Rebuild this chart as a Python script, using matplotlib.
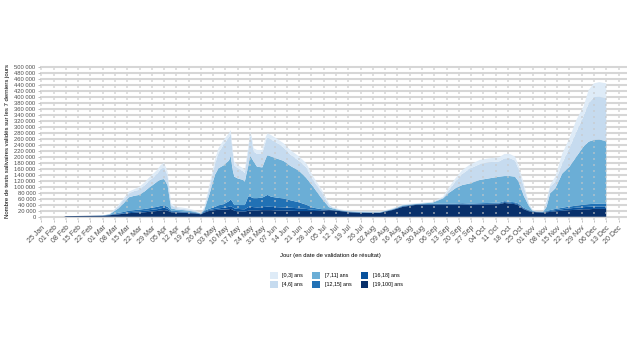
import matplotlib
matplotlib.use("Agg")
import matplotlib.pyplot as plt
from matplotlib.patches import Patch
import numpy as np
import pandas as pd

plt.rcParams['font.family'] = ['Liberation Sans', 'DejaVu Sans']

# ---- data (thousands of tests, 7-day rolling sums) ----
dates = ["2021-01-25", "2021-02-07", "2021-02-08", "2021-02-22", "2021-03-01", "2021-03-05",
         "2021-03-10", "2021-03-13", "2021-03-16", "2021-03-19", "2021-03-22", "2021-03-25",
         "2021-03-27", "2021-03-30", "2021-04-01", "2021-04-03", "2021-04-05", "2021-04-07",
         "2021-04-09", "2021-04-12", "2021-04-16", "2021-04-19", "2021-04-23", "2021-04-26",
         "2021-04-28", "2021-05-01", "2021-05-04", "2021-05-06", "2021-05-09", "2021-05-12",
         "2021-05-13", "2021-05-14", "2021-05-15", "2021-05-17", "2021-05-20", "2021-05-21",
         "2021-05-23", "2021-05-24", "2021-05-25", "2021-05-26", "2021-05-28", "2021-05-31",
         "2021-06-02", "2021-06-03", "2021-06-05", "2021-06-08", "2021-06-12", "2021-06-16",
         "2021-06-21", "2021-06-25", "2021-06-29", "2021-07-04", "2021-07-08", "2021-07-10",
         "2021-07-14", "2021-07-19", "2021-07-25", "2021-08-01", "2021-08-06", "2021-08-13",
         "2021-08-19", "2021-08-27", "2021-09-05", "2021-09-11", "2021-09-14", "2021-09-18",
         "2021-09-22", "2021-09-26", "2021-10-02", "2021-10-07", "2021-10-13", "2021-10-16",
         "2021-10-19", "2021-10-22", "2021-10-24", "2021-10-27", "2021-10-30", "2021-11-01",
         "2021-11-03", "2021-11-07", "2021-11-09", "2021-11-11", "2021-11-14", "2021-11-18",
         "2021-11-22", "2021-11-26", "2021-11-30", "2021-12-03", "2021-12-06", "2021-12-09",
         "2021-12-13"]

age_19_100 = [0, 0, 2, 3, 3, 5, 8, 10, 12, 13, 14, 15, 16, 18, 19, 21, 22, 20, 15, 14, 13, 12, 11, 8,
              14, 20, 22, 23, 24, 25, 26, 24, 20, 18, 17, 17, 20, 21, 21, 21, 21, 22, 22, 22, 22, 21,
              21, 20, 19, 19, 19, 20, 22, 21, 19, 15, 13, 13, 13, 22, 33, 40, 40, 40, 40, 40, 40, 39,
              40, 41, 42, 46, 44, 42, 38, 25, 18, 16, 15, 14, 15, 16, 18, 20, 22, 23, 25, 25, 26, 26, 26]
age_16_18 = [0, 0, 0, 0, 0.5, 1, 2, 2, 3, 4, 4, 5, 5, 6, 6, 7, 8, 7, 2, 2, 2, 2, 1, 1,
             3, 3, 4, 5, 6, 8, 9, 8, 8, 8, 8, 8, 12, 12, 12, 11, 10, 10, 11, 12, 11, 11,
             10, 10, 9, 7, 4, 2, 1, 1, 1, 1, 1, 1, 1, 1, 2, 1, 2, 2, 2, 2, 2, 2,
             2, 2, 2, 3, 3, 3, 3, 2, 2, 1, 1, 1, 2, 3, 4, 5, 6, 7, 7, 8, 8, 8, 8]
age_12_15 = [0, 0, 0, 0, 0.5, 1, 3, 4, 5, 5, 6, 6, 7, 7, 8, 8, 8, 6, 3, 3, 2, 2, 2, 1,
             3, 4, 7, 10, 12, 19, 23, 18, 11, 13, 14, 14, 35, 35, 31, 30, 31, 32, 37, 39, 34, 32,
             30, 25, 20, 14, 7, 3, 2, 1, 1, 1, 1, 0, 0, 1, 1, 1, 1, 2, 2, 2, 3, 3,
             3, 3, 3, 3, 3, 3, 3, 3, 2, 1, 1, 1, 2, 3, 4, 5, 6, 7, 8, 9, 9, 10, 10]
age_7_11 = [0, 0, 0, 0, 0, 1, 15, 29, 45, 48, 49, 59, 67, 77, 84, 88, 88, 72, 8, 5, 5, 4, 2, 1,
            4, 51, 107, 124, 130, 136, 145, 110, 95, 89, 84, 78, 103, 135, 131, 123, 105, 101, 125, 133, 134, 131,
            126, 115, 105, 90, 70, 35, 7, 5, 1, 1, 1, 1, 1, 1, 2, 1, 4, 17, 34, 51, 61, 67,
            78, 82, 87, 84, 86, 86, 74, 40, 13, 2, 0, 0, 14, 56, 69, 115, 133, 164, 194, 209, 214, 214, 209]
age_4_6 = [0, 0, 0, 0, 0, 1, 7, 13, 12, 16, 17, 20, 22, 24, 26, 34, 39, 33, 10, 5, 4, 4, 3, 1,
           6, 22, 35, 50, 70, 77, 75, 62, 38, 34, 29, 29, 52, 69, 61, 33, 43, 45, 59, 59, 57, 53,
           45, 38, 33, 35, 22, 20, 8, 3, 2, 1, 2, 1, 1, 2, 2, 1, 2, 3, 8, 22, 37, 49,
           53, 54, 51, 59, 60, 54, 42, 30, 5, 3, 1, 1, 17, 22, 22, 34, 62, 83, 101, 128, 143, 143, 143]
age_0_3 = [0, 0, 0, 0, 0, 0, 4, 4, 7, 6, 10, 10, 11, 13, 13, 14, 16, 12, 7, 4, 4, 3, 2, 0,
           3, 11, 15, 17, 15, 14, 12, 12, 12, 11, 10, 10, 12, 12, 12, 11, 13, 13, 14, 14, 15, 14,
           14, 15, 15, 14, 12, 9, 5, 2, 1, 1, 1, 1, 1, 1, 2, 1, 1, 3, 9, 11, 13, 13,
           14, 13, 14, 15, 14, 13, 13, 11, 5, 2, 1, 0, 5, 6, 17, 33, 33, 40, 33, 45, 46, 49, 50]

labels = ["[0,3] ans", "[4,6] ans", "[7,11] ans", "[12,15] ans", "[16,18] ans", "[19,100] ans"]
colors = ["#deebf7", "#c6dbef", "#6baed6", "#2171b5", "#08519c", "#08306b"]

x = pd.to_datetime(dates)
series_bottom_up = [age_19_100, age_16_18, age_12_15, age_7_11, age_4_6, age_0_3]
ys = [np.array(s, dtype=float) * 1000 for s in series_bottom_up]
cols_bottom_up = colors[::-1]

fig = plt.figure(figsize=(6.34, 3.52), dpi=100)
W, H = 634, 352
ax = fig.add_axes([39.5 / W, 1 - 220 / H, (627 - 39.5) / W, (220 - 63) / H])

ax.stackplot(x, *ys, colors=cols_bottom_up, linewidth=0, zorder=2)

ax.set_xlim(pd.Timestamp("2021-01-24"), pd.Timestamp("2021-12-24 20:00"))
ax.set_ylim(-11000, 514000)

yt = np.arange(0, 500001, 20000)
ax.set_yticks(yt)
ax.set_yticklabels([f"{v:,}".replace(",", " ") for v in yt])
for v in yt:
    ax.axhline(v, color="#d6d6d6", lw=1.5, zorder=1)

xt = pd.date_range("2021-01-25", "2021-12-20", freq="7D")
ax.set_xticks(xt)
ax.set_xticklabels([d.strftime("%d %b") for d in xt], rotation=45, ha="right",
                   rotation_mode="anchor")
for d in xt:
    ax.axvline(d, color="#c8c8c8", alpha=0.55, lw=1.44, dashes=(1, 2), zorder=3,
               ymin=0.0, ymax=0.995)

for s in ax.spines.values():
    s.set_visible(False)
ax.tick_params(axis="both", length=1.6, width=0.5, color="#a6a6a6", pad=1.2,
               labelcolor="#4d4d4d")
ax.tick_params(axis="y", labelsize=4.2)
ax.tick_params(axis="x", labelsize=5.0, pad=1.5)

fig.text(8 / W, 1 - 141 / H, "Nombre de tests salivaires validés sur les 7 derniers jours",
         rotation=90, ha="center", va="center", fontsize=4.3, color="black")
fig.text(330 / W, 1 - 256 / H, "Jour (en date de validation de résultat)",
         ha="center", va="center", fontsize=4.2, color="black")

handles = [Patch(facecolor=c, edgecolor="none") for c in colors]
fig.legend(handles, labels, ncol=3, loc="center", bbox_to_anchor=(336.5 / W, 1 - 280 / H),
           frameon=False, fontsize=3.9, handlelength=1.35, handleheight=1.35,
           handletextpad=0.9, columnspacing=1.7, labelspacing=0.55)

fig.savefig("out.png", dpi=100)
